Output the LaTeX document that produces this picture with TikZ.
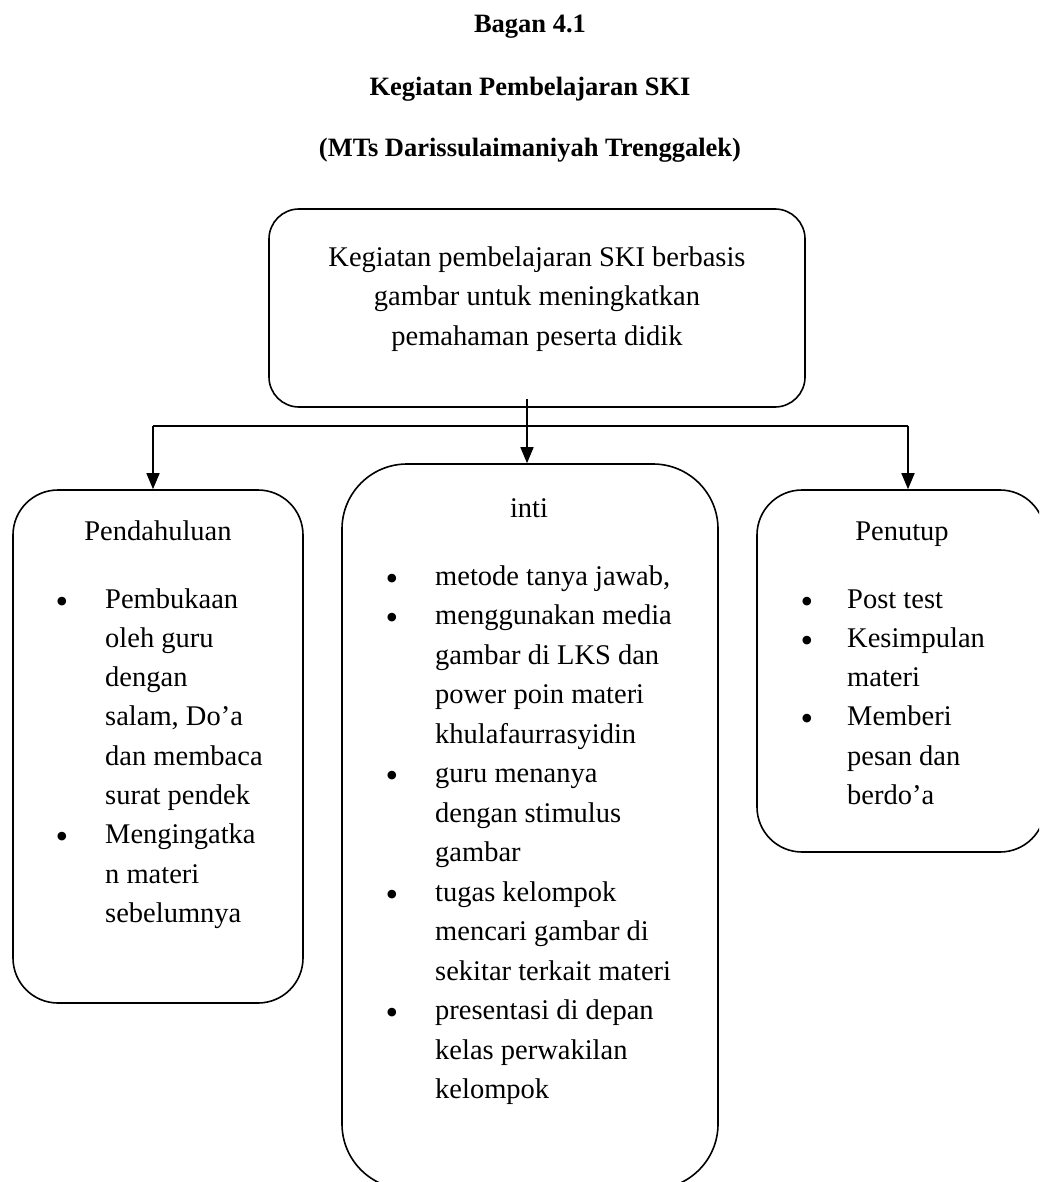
\documentclass[tikz,border=0pt]{standalone}
\usepackage{fontspec}
\setmainfont{Liberation Serif}
\usetikzlibrary{arrows.meta}
\begin{document}
\begin{tikzpicture}[x=1pt,y=-1pt,
  box/.style={draw, line width=1.6pt, inner sep=0pt},
  body/.style={font=\fontsize{28.5}{34}\selectfont, inner sep=0pt},
  ttl/.style={font=\fontsize{26.5}{32}\selectfont\bfseries, inner sep=0pt, anchor=base},
  ctr/.style={body, anchor=base},
  lft/.style={body, anchor=base west},
  bul/.style={font=\fontsize{36}{36}\selectfont, inner sep=0pt, anchor=base},
  arr/.style={line width=1.6pt, -{Triangle[length=16pt,width=13pt]}}
]
\clip (0,0) rectangle (1039,1182);
\fill[white] (0,0) rectangle (1039,1182);

% titles
\node[ttl] (t1) at (530,33) {Bagan 4.1};
\node[ttl] (t2) at (530,96) {Kegiatan Pembelajaran SKI};
\node[ttl] (t3) at (530,157) {(MTs Darissulaimaniyah Trenggalek)};

% boxes
\node[box, rounded corners=30pt, minimum width=536pt, minimum height=198pt] (T) at (537,308) {};
\node[box, rounded corners=45pt, minimum width=290pt, minimum height=513pt] (L) at (158,746.5) {};
\node[box, rounded corners=65pt, minimum width=376pt, minimum height=725pt] (M) at (530,826.5) {};
\node[box, rounded corners=45pt, minimum width=288pt, minimum height=362pt] (R) at (901,671) {};

% top text
\node[ctr] (T1) at (537,266) {Kegiatan pembelajaran SKI berbasis};
\node[ctr] (T2) at (537,305.5) {gambar untuk meningkatkan};
\node[ctr] (T3) at (537,345) {pemahaman peserta didik};

% connectors
\coordinate (s) at (527,399);
\coordinate (hl) at (153,426);
\coordinate (hr) at (908,426);
\draw[line width=1.6pt] (hl) -- (hr);
\draw[arr] (s) -- (s |- M.north);
\draw[arr] (hl) -- (hl |- L.north);
\draw[arr] (hr) -- (hr |- R.north);

% left box
\node[ctr] (Lh) at (158,540) {Pendahuluan};
\foreach \t [count=\k from 0] in {Pembukaan, oleh guru, dengan, {salam, Do’a}, dan membaca, surat pendek, Mengingatka, n materi, sebelumnya}
  \node[lft] (Lt\k) at (105,{608+\k*39.3}) {\t};
\node[bul] (Lb1) at (62,613) {•};
\node[bul] (Lb2) at (62,{613+6*39.3}) {•};

% middle box
\node[ctr] (Mh) at (529,517) {inti};
\foreach \t [count=\k from 0] in {{metode tanya jawab,}, menggunakan media, gambar di LKS dan, power poin materi, khulafaurrasyidin, guru menanya, dengan stimulus, gambar, tugas kelompok, mencari gambar di, sekitar terkait materi, presentasi di depan, kelas perwakilan, kelompok}
  \node[lft] (Mt\k) at (435,{585+\k*39.5}) {\t};
\foreach \k in {0,1,5,8,11}
  \node[bul] (Mb\k) at (392,{590+\k*39.5}) {•};

% right box
\node[ctr] (Rh) at (902,540) {Penutup};
\foreach \t [count=\k from 0] in {Post test, Kesimpulan, materi, Memberi, pesan dan, berdo’a}
  \node[lft] (Rt\k) at (847,{608+\k*39.3}) {\t};
\foreach \k in {0,1,3}
  \node[bul] (Rb\k) at (807,{613+\k*39.3}) {•};
\end{tikzpicture}
\end{document}
